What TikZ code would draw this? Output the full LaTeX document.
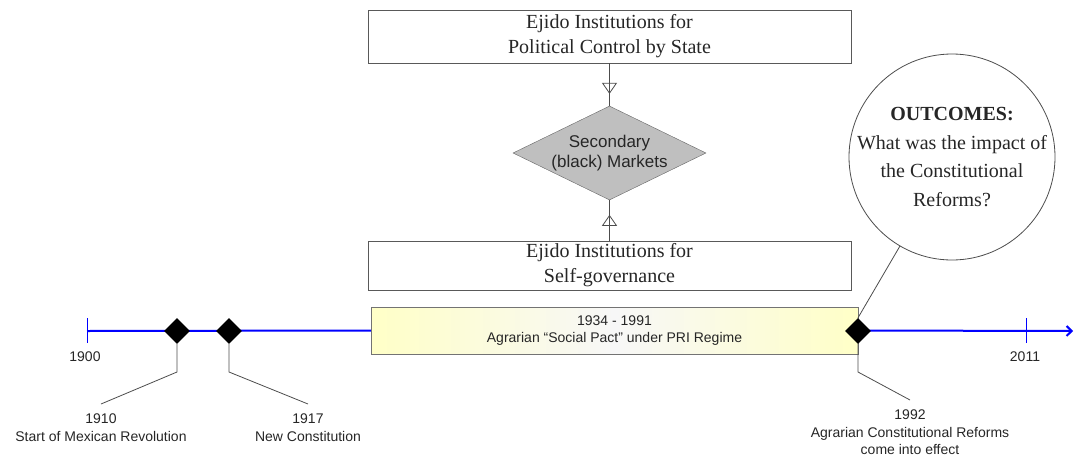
\documentclass[tikz,border=0pt]{standalone}
\usepackage{fontspec}
\setmainfont{Liberation Serif}
\setsansfont{Liberation Sans}
\usetikzlibrary{positioning,shapes.geometric,arrows.meta,decorations.markings}

\begin{document}
\begin{tikzpicture}[x=1pt,y=-1pt,
        inst/.style={draw=black!65,fill=white,minimum width=483pt,inner sep=0pt,align=center,font=\fontsize{20}{25}\selectfont,text=black!85},
        evt/.style={diamond,fill=black,minimum width=26pt,minimum height=26pt,inner sep=0pt},
        tl/.style={blue,line width=2pt},
        call/.style={draw=black!70,line width=0.8pt},
        lbl/.style={font=\sffamily\fontsize{14}{17.5}\selectfont,text=black!85,align=center},
        evlbl/.style={lbl,inner sep=0pt,outer sep=10pt,anchor=north},
        feed/.style={draw=black!70,line width=0.8pt,postaction={decorate},
            decoration={markings,mark=at position #1 with {\arrow{Triangle[open,length=11pt,width=15pt]}}}}]
        \useasboundingbox (0,0) rectangle (1074,461);
        % institutions and markets
        \node[inst,minimum height=53pt] (ctrl) at (609.5,36.5) {Ejido Institutions for\\Political Control by State};
        \node[diamond,draw=black!60,fill=black!25,minimum width=193pt,minimum height=94pt,aspect=2,inner sep=0pt,lbl,font=\sffamily\fontsize{17}{20}\selectfont] (mkt) at (609.5,153) {Secondary\\(black) Markets};
        \node[inst,minimum height=49pt] (self) at (609.5,265.5) {Ejido Institutions for\\Self-governance};
        \draw[feed=0.72] (ctrl) -- (mkt);
        \draw[feed=0.64] (self) -- (mkt);
        % timeline
        \coordinate (t1900) at (87,331);
        \coordinate (t2011) at (1026,331);
        \coordinate (tend) at (1073,331);
        \node[draw=black!55,left color=yellow!22,right color=yellow!22,middle color=black!3,minimum width=487pt,minimum height=47pt,inner sep=0pt,lbl] (era) at (614.5,330.5) {1934 - 1991\\Agrarian “Social Pact” under PRI Regime};
        \draw[tl] (t1900) -- (era.west);
        \draw[tl,-{Straight Barb[length=5pt,width=10pt]}] (era.east) -- (tend);
        \draw[blue,line width=1pt] ([yshift=13pt]t1900) -- ([yshift=-12pt]t1900);
        \draw[blue,line width=1pt] ([yshift=13pt]t2011) -- ([yshift=-12pt]t2011);
        \node[lbl] (l1900) at (85,357) {1900};
        \node[lbl] (l2011) at (1025,357) {2011};
        % events
        \node[evt] (e1910) at (177,331) {};
        \node[evt] (e1917) at (229,331) {};
        \node[evt] (e1992) at (858,331) {};
        \coordinate (k1910) at (177,372);
        \coordinate (k1917) at (229,372);
        \coordinate (k1992) at (858,372);
        \node[evlbl] (l1910) at (101,404) {1910\\Start of Mexican Revolution};
        \node[evlbl] (l1917) at (308,404) {1917\\New Constitution};
        \node[evlbl] (l1992) at (910,400) {1992\\Agrarian Constitutional Reforms\\come into effect};
        \draw[call] (e1910.south) -- (k1910) -- (l1910.north);
        \draw[call] (e1917.south) -- (k1917) -- (l1917.north);
        \draw[call] (e1992.south) -- (k1992) -- (l1992.north);
        % outcomes
        \node[circle,draw=black!70,line width=0.8pt,minimum size=206pt,inner sep=-8pt,align=center,font=\fontsize{20}{28.5}\selectfont,text=black!85] (outc) at (952,157) {\textbf{OUTCOMES:}\\What was the impact of\\the Constitutional\\Reforms?};
        \draw[call] (e1992.north) -- (outc);
    \end{tikzpicture}
\end{document}
